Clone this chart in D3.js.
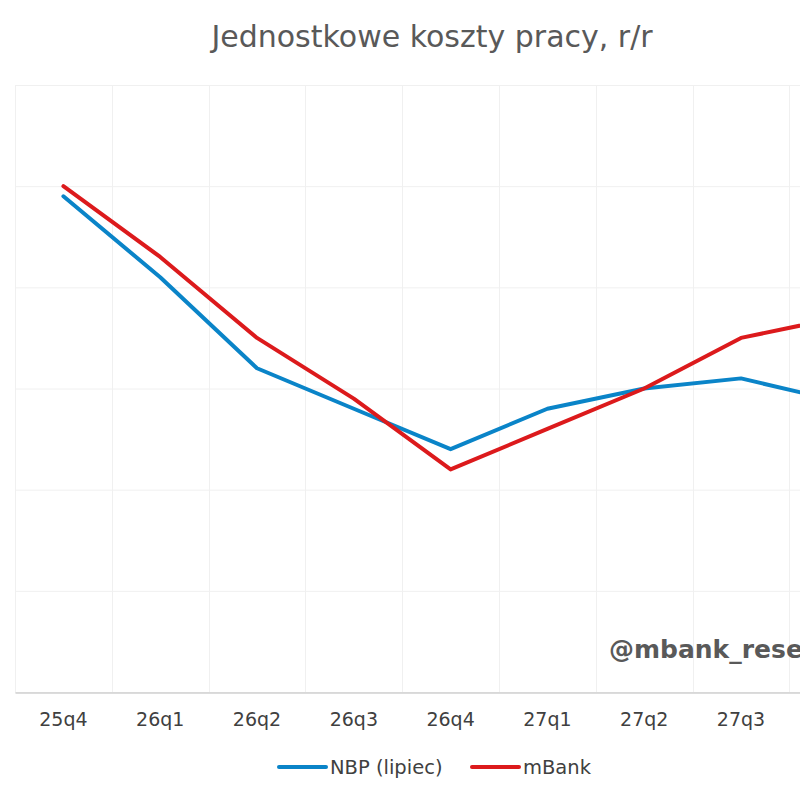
<!DOCTYPE html>
<html>
<head>
  <meta charset="utf-8">
  <title>Jednostkowe koszty pracy</title>
  <script src="https://d3js.org/d3.v7.min.js"></script>
  <style>
    html, body {
      margin: 0;
      padding: 0;
      background: #fff;
      overflow: hidden;
    }
    .grid line {
      stroke: #f0f0f0;
      stroke-width: 1;
    }
    .tick-label {
      font: 19px "DejaVu Sans", Verdana, sans-serif;
      fill: #404040;
    }
  </style>
</head>
<body>
  <svg id="chart" width="800" height="800"></svg>

  <script>
    // data (27q4 lies outside the visible crop)
    var categories = ["25q4", "26q1", "26q2", "26q3", "26q4", "27q1", "27q2", "27q3", "27q4"];
    var nbp   = [9.8, 8.2, 6.4, 5.6, 4.8, 5.6, 6.0, 6.2, 5.75];
    var mbank = [10.0, 8.6, 7.0, 5.8, 4.4, 5.2, 6.0, 7.0, 7.4];
    var yTicks = [0, 2, 4, 6, 8, 10, 12];
    var seriesNames = ["NBP (lipiec)", "mBank"];
    var seriesColors = ["#0a84c8", "#dc1a1c"];

    var svg = d3.select("#chart");

    const plotLeft = 15, plotTop = 85, plotBottom = 692, step = 96.8;

    var x = d3.scaleBand()
      .domain(categories)
      .range([plotLeft, plotLeft + step * categories.length])
      .padding(0);

    var y = d3.scaleLinear()
      .domain([0, 12])
      .range([plotBottom, plotTop]);

    // title
    svg.append("text")
      .attr("x", 432)
      .attr("y", 47)
      .attr("text-anchor", "middle")
      .style("font", "30px 'DejaVu Sans', Verdana, sans-serif")
      .style("fill", "#595959")
      .text("Jednostkowe koszty pracy, r/r");

    // gridlines
    var grid = svg.append("g").attr("class", "grid");
    grid.selectAll("line.h")
      .data(yTicks)
      .join("line")
      .attr("class", "h")
      .attr("x1", x.range()[0])
      .attr("x2", x.range()[1])
      .attr("y1", d => y(d) + 0.5)
      .attr("y2", d => y(d) + 0.5);

    grid.selectAll("line.v")
      .data(categories)
      .join("line")
      .attr("class", "v")
      .attr("x1", d => Math.round(x(d)) + 0.5)
      .attr("x2", d => Math.round(x(d)) + 0.5)
      .attr("y1", y(12))
      .attr("y2", y(0));

    // x axis
    var xAxis = d3.axisBottom(x).tickSize(0).tickPadding(20);
    var gx = svg.append("g")
      .attr("transform", "translate(0," + (plotBottom + 0.5) + ")")
      .call(xAxis);
    gx.select(".domain").attr("stroke", "#d0d0d0").attr("stroke-width", 1.5);
    gx.selectAll("text").attr("class", "tick-label");

    // watermark
    svg.append("text")
      .attr("x", 609)
      .attr("y", 658)
      .style("font", "bold 25px 'DejaVu Sans', Verdana, sans-serif")
      .style("fill", "#595959")
      .text("@mbank_research");

    // lines
    var line = d3.line()
      .x((d, i) => x(categories[i]) + x.bandwidth() / 2)
      .y(d => y(d));

    [nbp, mbank].forEach((s, i) => {
      svg.append("path")
        .datum(s)
        .attr("fill", "none")
        .attr("stroke", seriesColors[i])
        .attr("stroke-width", 4)
        .attr("stroke-linejoin", "round")
        .attr("stroke-linecap", "round")
        .attr("d", line);
    });

    // legend
    var legendX = [279, 472];
    var legend = svg.append("g");
    seriesNames.forEach((n, i) => {
      legend.append("line")
        .attr("x1", legendX[i])
        .attr("x2", legendX[i] + 47)
        .attr("y1", 767)
        .attr("y2", 767)
        .attr("stroke", seriesColors[i])
        .attr("stroke-width", 4)
        .attr("stroke-linecap", "round");
      legend.append("text")
        .attr("x", legendX[i] + 51)
        .attr("y", 774)
        .attr("class", "tick-label")
        .style("font-size", "19.5px")
        .text(n);
    });
  </script>
</body>
</html>
